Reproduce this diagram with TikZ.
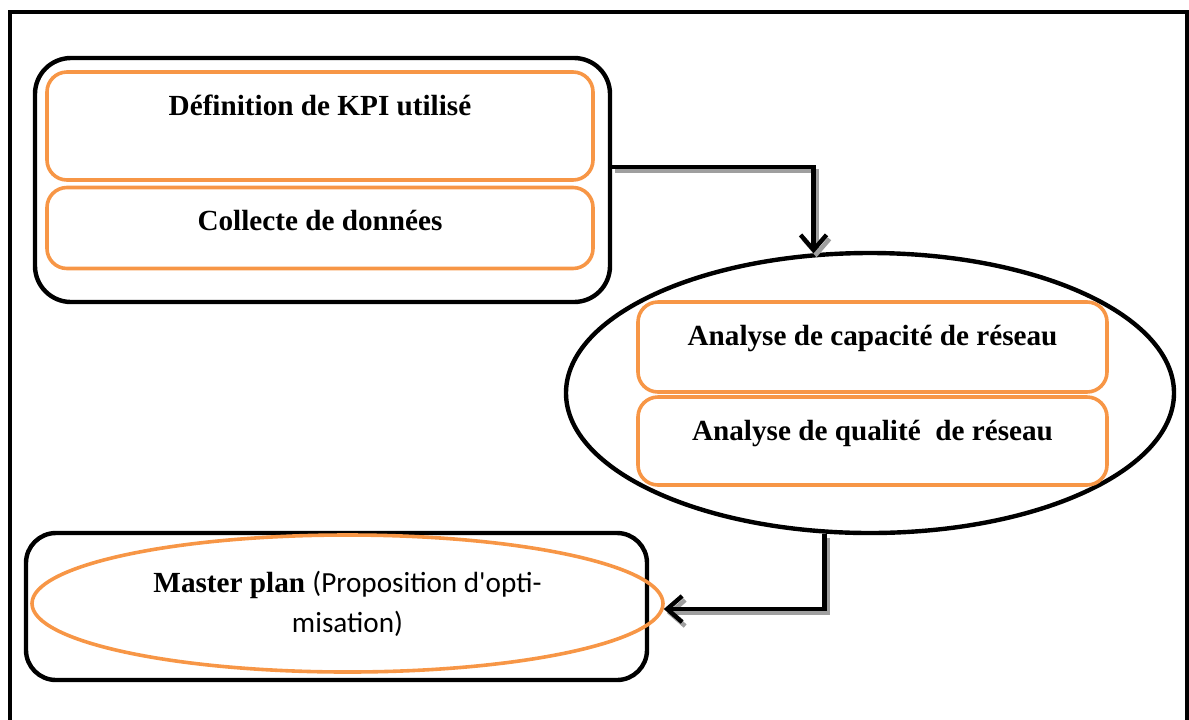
\documentclass[tikz,border=0pt]{standalone}
\usepackage{fontspec}
\setmainfont{Liberation Serif}
\newfontfamily\calibri{Carlito}
\usetikzlibrary{shapes.geometric, arrows.meta}
\definecolor{accentorange}{HTML}{F79646}
\tikzstyle{outerbox} = [rectangle, draw=black, line width=2.2pt, inner sep=0pt]
\tikzstyle{task} = [rectangle, rounded corners=10pt, draw=accentorange, line width=1.8pt, text centered, inner sep=0pt, text height=21.5pt, font=\fontsize{14.6}{20}\selectfont\bfseries]
\tikzstyle{bubble} = [ellipse, inner sep=0pt, line width=2.2pt]
\tikzstyle{arrow} = [line width=2.2pt, -{Straight Barb[length=7.5pt, width=13pt]}, preaction={draw=gray!75, line width=2.2pt, -{Straight Barb[length=7.5pt, width=13pt]}, transform canvas={shift={(1.5pt,-2pt)}}}]

\begin{document}
\begin{tikzpicture}[x=0.5pt, y=-0.5pt]
		\useasboundingbox (0,0) rectangle (1189,719);
		% page frame (open at the bottom)
		\draw [line width=2.2pt] (10,740) -- (10,12) -- (1187,12) -- (1187,740);

		\node (prep) [outerbox, rounded corners=18pt, minimum width=287.5pt, minimum height=122pt] at (322.5,180) {};
		\node (kpi) [task, minimum width=273pt, minimum height=54pt, text depth=32.5pt] at (320,126) {D\'efinition de KPI utilis\'e};
		\node (collecte) [task, minimum width=273pt, minimum height=40pt, text depth=19pt] at (320,228) {Collecte de donn\'ees};

		\node (analyse) [bubble, draw=black, minimum width=304pt, minimum height=140pt] at (870,393) {};
		\node (capacite) [task, minimum width=234.5pt, minimum height=45pt, text depth=23.5pt] at (872.5,347) {Analyse de capacit\'e de r\'eseau};
		\node (qualite) [task, minimum width=234.5pt, minimum height=44pt, text depth=22.5pt] at (872.5,441) {Analyse de qualit\'e~ de r\'eseau};

		\node (plan) [outerbox, rounded corners=15pt, minimum width=310.5pt, minimum height=73.5pt] at (336.5,606.5) {};
		\node (master) [bubble, draw=accentorange, line width=1.8pt, minimum width=315.5pt, minimum height=68.5pt, align=center, font=\fontsize{14.6}{20}\selectfont] at (347.5,603.5) {\textbf{Master plan} {\calibri (Proposition d\textquotesingle opti-}\\{\calibri misation)}};

		\draw [arrow] ([yshift=6.5pt]prep.east) -| (analyse.112.5);
		\draw [arrow] (analyse.252) |- (master.-1.7);
\end{tikzpicture}
\end{document}
